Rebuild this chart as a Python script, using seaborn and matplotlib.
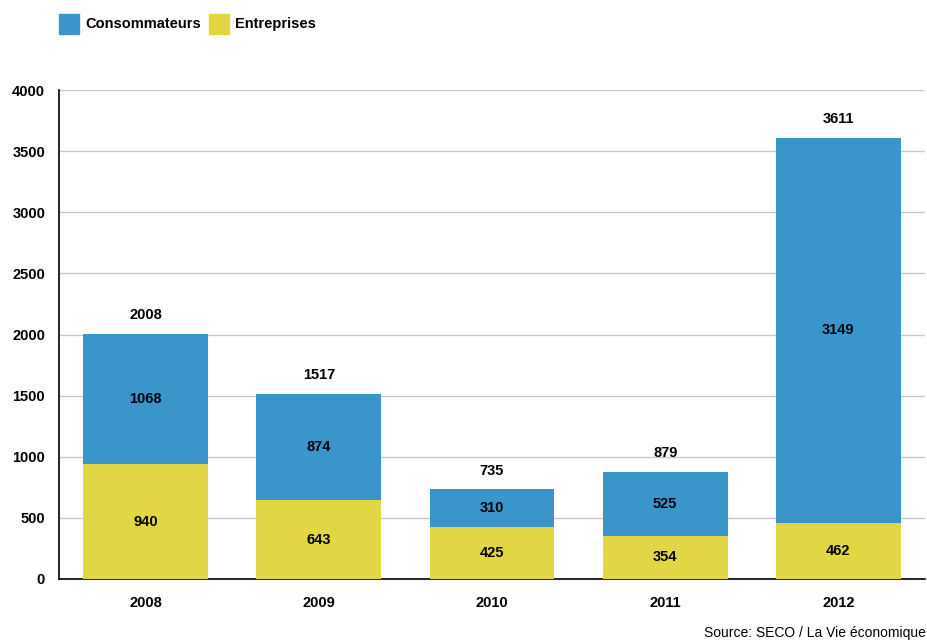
import matplotlib
matplotlib.use("Agg")
import matplotlib.pyplot as plt
import seaborn as sns
import pandas as pd
from matplotlib.patches import Rectangle

years = ["2008", "2009", "2010", "2011", "2012"]
consommateurs = [1068, 874, 310, 525, 3149]
entreprises = [940, 643, 425, 354, 462]
totals = [2008, 1517, 735, 879, 3611]
y_ticks = [0, 500, 1000, 1500, 2000, 2500, 3000, 3500, 4000]

BLUE = "#3A96CA"
YELLOW = "#E2D645"
FONT = ["Liberation Sans", "DejaVu Sans"]

sns.set_theme(style="white")
plt.rcParams["font.family"] = FONT
plt.rcParams["font.weight"] = "bold"
plt.rcParams["text.color"] = "black"
plt.rcParams["xtick.color"] = "black"
plt.rcParams["ytick.color"] = "black"

df = pd.DataFrame({"year": years, "cons": consommateurs, "ent": entreprises, "total": totals})

fig = plt.figure(figsize=(9.28, 6.42), dpi=100)
ax = fig.add_axes([59/928, 1-579/642, (925-59)/928, (579-90)/642])

sns.barplot(data=df, x="year", y="total", color=BLUE, width=0.72, saturation=1, ax=ax,
            zorder=2, linewidth=0)
sns.barplot(data=df, x="year", y="ent", color=YELLOW, width=0.72, saturation=1, ax=ax,
            zorder=3, linewidth=0)

ax.set_xlim(-0.5, 4.5)
ax.set_ylim(0, 4000)
ax.set_yticks(y_ticks)
ax.set_yticklabels([str(v) for v in y_ticks], fontsize=10.5, fontweight="bold", color="black")
ax.set_xticks(range(len(years)))
ax.set_xticklabels(years, fontsize=10.5, fontweight="bold", color="black")
ax.tick_params(axis="x", length=0, pad=12)
ax.tick_params(axis="y", length=0, pad=10)
ax.set_xlabel("")
ax.set_ylabel("")
ax.yaxis.grid(True, color="#c8c8c8", linewidth=1, zorder=0)
ax.set_axisbelow(True)
for s in ["top", "right"]:
    ax.spines[s].set_visible(False)
for s in ["left", "bottom"]:
    ax.spines[s].set_color("black")
    ax.spines[s].set_linewidth(1.2)

for i in range(len(years)):
    e = entreprises[i]
    c = consommateurs[i]
    ax.text(i, e/2, str(e), ha="center", va="center", fontsize=10.5, fontweight="bold", color="black", zorder=5)
    ax.text(i, e + c/2, str(c), ha="center", va="center", fontsize=10.5, fontweight="bold", color="black", zorder=5)
    ax.annotate(str(totals[i]), (i, totals[i]), xytext=(0, 8), textcoords="offset points",
                ha="center", va="bottom", fontsize=10.5, fontweight="bold", color="black")

# legend
fig.patches.append(Rectangle((59/928, 1-34/642), 20/928, 20/642, transform=fig.transFigure, color=BLUE))
fig.text(85/928, 1-24/642, "Consommateurs", fontsize=10.5, fontweight="bold", va="center", ha="left")
fig.patches.append(Rectangle((209/928, 1-34/642), 20/928, 20/642, transform=fig.transFigure, color=YELLOW))
fig.text(235/928, 1-24/642, "Entreprises", fontsize=10.5, fontweight="bold", va="center", ha="left")

fig.text(926/928, 1-633/642, "Source: SECO / La Vie économique", fontsize=10, fontweight="normal",
         ha="right", va="center")

fig.savefig("out.png", dpi=100)
